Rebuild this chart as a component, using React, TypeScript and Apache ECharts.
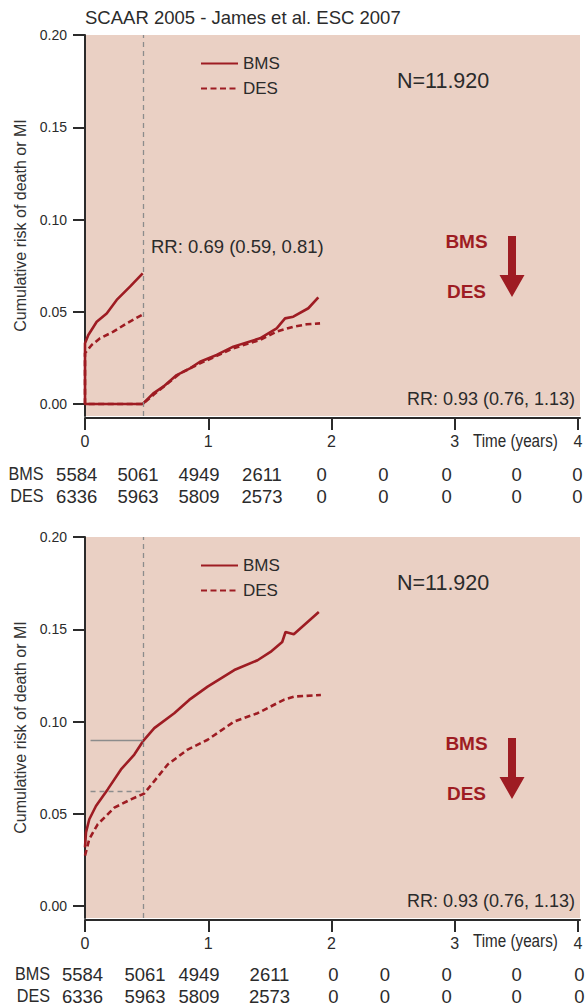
import React, { useEffect, useRef } from "react";
import * as echarts from "echarts";

// ---------- data ----------
const xTicks = [0, 1, 2, 3, 4];
const yTicks = [0, 0.05, 0.1, 0.15, 0.2];
const landmark = 0.47; // 6-month landmark (years)
const seriesNames = ["BMS", "DES"];

// Top panel: landmark analysis (0-6 months, then from 6 months on)
const topBmsEarly: [number, number][] = [
  [0, 0.0329], [0.027, 0.0374], [0.095, 0.0446], [0.176, 0.0491], [0.257, 0.0564],
  [0.365, 0.0636], [0.468, 0.0708],
];
const topDesEarly: [number, number][] = [
  [0, 0.0275], [0.054, 0.032], [0.122, 0.0356], [0.23, 0.0392], [0.338, 0.0437], [0.46, 0.0482],
];
const topBmsLate: [number, number][] = [
  [0, 0], [0.468, 0], [0.554, 0.0058], [0.635, 0.0094], [0.744, 0.0157], [0.852, 0.0193],
  [0.933, 0.0229], [1.068, 0.0266], [1.203, 0.0311], [1.42, 0.0356], [1.555, 0.041],
  [1.623, 0.0464], [1.69, 0.0473], [1.812, 0.0519], [1.893, 0.0578],
];
const topDesLate: [number, number][] = [
  [0, 0], [0.468, 0], [0.554, 0.0049], [0.771, 0.0166], [0.933, 0.022], [1.203, 0.0302],
  [1.42, 0.0347], [1.555, 0.0392], [1.69, 0.0419], [1.8, 0.0432], [1.907, 0.0437],
];

// Bottom panel: cumulative
const botBms: [number, number][] = [
  [0, 0.0318], [0.008, 0.0399], [0.035, 0.047], [0.089, 0.0542], [0.184, 0.0632],
  [0.292, 0.074], [0.4, 0.0821], [0.476, 0.0898], [0.562, 0.0964], [0.724, 0.1045],
  [0.845, 0.1117], [0.995, 0.1189], [1.211, 0.1279], [1.4, 0.1332], [1.505, 0.1377],
  [1.6, 0.1431], [1.627, 0.1485], [1.694, 0.1473], [1.897, 0.1593],
];
const botDes: [number, number][] = [
  [0, 0.0273], [0.035, 0.0363], [0.103, 0.0443], [0.238, 0.0533], [0.373, 0.0578],
  [0.481, 0.061], [0.562, 0.0677], [0.671, 0.0767], [0.833, 0.0848], [0.995, 0.0901],
  [1.211, 0.1], [1.4, 0.1045], [1.617, 0.1119], [1.698, 0.1135], [1.914, 0.1144],
];
const botRefStart = 0.045;
const botBmsAt6m = 0.0898;
const botDesAt6m = 0.062;

// numbers at risk
const bmsAtRisk = [5584, 5061, 4949, 2611, 0, 0, 0, 0, 0];
const desAtRisk = [6336, 5963, 5809, 2573, 0, 0, 0, 0, 0];

// texts
const titleText = "SCAAR 2005 - James et al. ESC 2007";
const nText = "N=11.920";
const rrEarly = "RR: 0.69 (0.59, 0.81)";
const rrLate = "RR: 0.93 (0.76, 1.13)";
const yName = "Cumulative risk of death or MI";
const xName = "Time (years)";

// ---------- layout / style ----------
const RED = "#9E1C23";
const BG = "#EAD0C4";
const INK = "#2b2b2b";
const GRAY = "#8c8c8c";
const SANS = "'Liberation Sans', Arial, sans-serif";
const PANEL_TOPS = [35, 537];
const TABLE_DY = [0, 500];
const TABLE_LABEL_RIGHT = [43.5, 50];
const TABLE_X = [
  [76.7, 138, 199, 262, 321.7, 383.3, 446.7, 516.7, 577.3],
  [82.5, 145, 199, 269.5, 333.3, 385, 446.7, 516.7, 579.5],
];

function txt(text: string, x: number, y: number, size: number, opts: any = {}) {
  const align = opts.align || "left";
  return {
    type: "text",
    z: 100,
    silent: true,
    x,
    y,
    scaleX: opts.scaleX || 1,
    style: {
      text,
      x: 0,
      y: 0,
      fontSize: size,
      fontFamily: SANS,
      fontWeight: opts.weight || "normal",
      fill: opts.fill || INK,
      align,
      textAlign: align,
      verticalAlign: "middle",
      textVerticalAlign: "middle",
    },
  };
}

function buildOption() {
  const grid: any[] = [];
  const xAxis: any[] = [];
  const yAxis: any[] = [];
  const legend: any[] = [];
  const graphic: any[] = [];

  PANEL_TOPS.forEach((top, i) => {
    const dy = top - PANEL_TOPS[0];
    grid.push({
      left: 85,
      top,
      width: 495,
      height: 381,
      show: true,
      backgroundColor: BG,
      borderWidth: 0,
    });
    xAxis.push({
      type: "value",
      gridIndex: i,
      min: 0,
      max: 4.016,
      position: "bottom",
      offset: 2,
      axisLine: { show: true, onZero: false, lineStyle: { color: INK, width: 2 } },
      axisTick: { show: true, length: 12, customValues: xTicks, lineStyle: { color: INK, width: 2 } },
      axisLabel: {
        customValues: xTicks,
        margin: 15,
        fontFamily: SANS,
        fontSize: 16,
        color: INK,
        formatter: (v: number) => String(v),
      },
      splitLine: { show: false },
    });
    yAxis.push({
      type: "value",
      gridIndex: i,
      min: -0.0065,
      max: 0.2,
      axisLine: { show: true, onZero: false, lineStyle: { color: INK, width: 2 } },
      axisTick: { show: true, length: 12, customValues: yTicks, lineStyle: { color: INK, width: 2 } },
      axisLabel: {
        customValues: yTicks,
        margin: 18,
        fontFamily: SANS,
        fontSize: 14,
        color: INK,
        formatter: (v: number) => v.toFixed(2),
      },
      splitLine: { show: false },
      name: yName,
      nameLocation: "middle",
      nameGap: 52,
      nameTextStyle: { fontFamily: SANS, fontSize: 16, color: "#333" },
    });
    legend.push({
      data: seriesNames,
      orient: "vertical",
      left: 195,
      top: 50 + dy,
      itemWidth: 37,
      itemHeight: 14,
      itemGap: 8,
      selectedMode: false,
      itemStyle: { opacity: 0 },
      textStyle: { fontFamily: SANS, fontSize: 17, color: INK },
    });

    graphic.push(txt(nText, 397, 81 + dy, 21.5));
    graphic.push(txt(rrLate, 575, 399 + dy, 18, { align: "right" }));
    graphic.push(txt("BMS", 466.5, 241 + dy, 19, { align: "center", weight: "bold", fill: RED }));
    graphic.push(txt("DES", 466.5, 291 + dy, 19, { align: "center", weight: "bold", fill: RED }));
    graphic.push({
      type: "polygon",
      z: 100,
      silent: true,
      shape: {
        points: [
          [508, 236 + dy], [516, 236 + dy], [516, 275 + dy], [524.5, 275 + dy],
          [512, 297 + dy], [499.5, 275 + dy], [508, 275 + dy],
        ],
      },
      style: { fill: RED },
    });

    const tdy = TABLE_DY[i];
    graphic.push(txt(xName, 473, 441 + tdy, 17.5, { scaleX: 0.87 }));
    graphic.push(txt(seriesNames[0], TABLE_LABEL_RIGHT[i], 474 + tdy, 18, { align: "right", scaleX: 0.9 }));
    graphic.push(txt(seriesNames[1], TABLE_LABEL_RIGHT[i], 496 + tdy, 18, { align: "right", scaleX: 0.9 }));
    bmsAtRisk.forEach((v, k) => graphic.push(txt(String(v), TABLE_X[i][k], 474 + tdy, 18.5, { align: "center" })));
    desAtRisk.forEach((v, k) => graphic.push(txt(String(v), TABLE_X[i][k], 496 + tdy, 18.5, { align: "center" })));
  });

  graphic.push(txt(titleText, 85, 17, 18.5));
  graphic.push(txt(rrEarly, 151, 246, 18.5));

  const solid = { color: RED, width: 2.6, type: "solid" as const };
  const dashed = { color: RED, width: 2.6, type: [6, 3.5] as any };
  const vLine = {
    silent: true,
    symbol: "none",
    label: { show: false },
    lineStyle: { color: GRAY, type: [5, 4] as any, width: 1.3 },
    data: [{ xAxis: landmark }],
  };

  const series: any[] = [
    {
      name: seriesNames[0],
      type: "line",
      xAxisIndex: 0,
      yAxisIndex: 0,
      symbol: "none",
      lineStyle: solid,
      itemStyle: { color: RED },
      data: [...[...topBmsEarly].reverse(), ...topBmsLate],
      markLine: vLine,
      z: 3,
    },
    {
      name: seriesNames[1],
      type: "line",
      xAxisIndex: 0,
      yAxisIndex: 0,
      symbol: "none",
      lineStyle: dashed,
      itemStyle: { color: RED },
      data: [...[...topDesEarly].reverse(), ...topDesLate],
      z: 4,
    },
    {
      name: seriesNames[0],
      type: "line",
      xAxisIndex: 1,
      yAxisIndex: 1,
      symbol: "none",
      lineStyle: solid,
      itemStyle: { color: RED },
      data: botBms,
      z: 3,
      markLine: {
        silent: true,
        symbol: "none",
        label: { show: false },
        data: [
          { xAxis: landmark, lineStyle: { color: GRAY, type: [5, 4], width: 1.3 } },
          [
            { coord: [botRefStart, botBmsAt6m], lineStyle: { color: GRAY, type: "solid", width: 1.3 } },
            { coord: [landmark, botBmsAt6m] },
          ],
          [
            { coord: [botRefStart, botDesAt6m], lineStyle: { color: GRAY, type: [5, 4], width: 1.3 } },
            { coord: [landmark, botDesAt6m] },
          ],
        ],
      },
    },
    {
      name: seriesNames[1],
      type: "line",
      xAxisIndex: 1,
      yAxisIndex: 1,
      symbol: "none",
      lineStyle: dashed,
      itemStyle: { color: RED },
      data: botDes,
      z: 4,
    },
  ];

  return {
    animation: false,
    backgroundColor: "#ffffff",
    grid,
    xAxis,
    yAxis,
    legend,
    graphic,
    series,
  };
}

export default function App() {
  const ref = useRef<HTMLDivElement>(null);
  useEffect(() => {
    if (!ref.current) return;
    const chart = echarts.init(ref.current, null, { renderer: "svg" });
    chart.setOption(buildOption() as any);
    return () => chart.dispose();
  }, []);
  return (
    <div
      ref={ref}
      style={{ position: "fixed", left: 0, top: 0, width: 586, height: 1008 }}
    />
  );
}
